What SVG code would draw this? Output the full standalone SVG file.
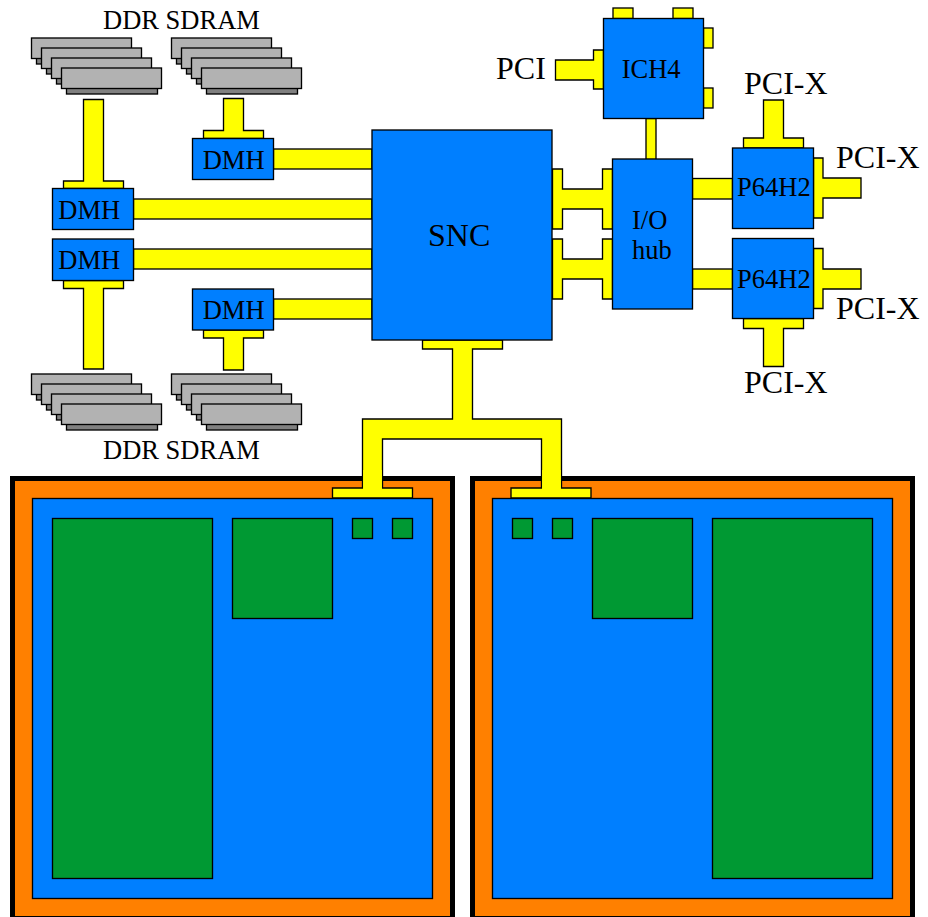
<svg xmlns="http://www.w3.org/2000/svg" xmlns:xlink="http://www.w3.org/1999/xlink" width="928" height="917" viewBox="0 0 928 917">
<style>
.l{stroke:#000;stroke-width:1.33}
.b{fill:#007fff}
.g{fill:#009933}
.y{fill:#ffff00}
.o{fill:#ff8000;stroke:#000;stroke-width:5}
.t{font-family:"Liberation Serif","Times New Roman",serif;font-size:26.5px;fill:#000}
.T{font-size:32px}
</style>
<defs>
<g id="dimm">
<rect x="36.5" y="58" width="91" height="6" fill="#808080" class="l"/>
<rect x="31.5" y="38" width="100" height="20.5" fill="#b2b2b2" class="l"/>
<rect x="46.5" y="68" width="91" height="6" fill="#808080" class="l"/>
<rect x="41.5" y="48" width="100" height="20.5" fill="#b2b2b2" class="l"/>
<rect x="56.5" y="78" width="91" height="6" fill="#808080" class="l"/>
<rect x="51.5" y="58" width="100" height="20.5" fill="#b2b2b2" class="l"/>
<rect x="66.5" y="88" width="91" height="6" fill="#808080" class="l"/>
<rect x="61.5" y="68" width="100" height="20.5" fill="#b2b2b2" class="l"/>
</g>
</defs>
<rect width="928" height="917" fill="#fff"/>
<g id="connectors">
<path class="y l" d="M83.5 99.5H103.5V181H123.5V188.5H63.5V181H83.5Z"/>
<path class="y l" d="M223.5 98.5H243.5V130.5H263.5V138.5H203.5V130.5H223.5Z"/>
<path class="y l" d="M63.5 280.5H123.5V288.5H103.5V369H83.5V288.5H63.5Z"/>
<path class="y l" d="M203.5 330H263.5V338H243.5V370H223.5V338H203.5Z"/>
<rect class="y l" x="273.5" y="149" width="98.5" height="20"/>
<rect class="y l" x="133.5" y="199" width="238.5" height="20"/>
<rect class="y l" x="133.5" y="249" width="238.5" height="20"/>
<rect class="y l" x="273.5" y="299" width="98.5" height="20"/>
<path class="y l" d="M552.5 169H562.5V189H602.5V169H612.5V229H602.5V209H562.5V229H552.5Z"/>
<path class="y l" d="M552.5 239H562.5V259H602.5V239H612.5V299H602.5V279H562.5V299H552.5Z"/>
<rect class="y l" x="646" y="118.500" width="10" height="41"/>
<rect class="y l" x="692.500" y="178.500" width="40" height="20.500"/>
<rect class="y l" x="692.500" y="269" width="40" height="20"/>
<path class="y l" d="M422.5 340H502.5V349H472.5V419H561.5V488H591V498H511V488H541.5V439H382.500V488H412.500V498H332.500V488H362.500V419H452.500V349H422.500Z"/>
<rect class="y l" x="613" y="8" width="20" height="10.500"/>
<rect class="y l" x="673" y="8" width="20" height="10.500"/>
<rect class="y l" x="703.500" y="28" width="9.500" height="20"/>
<rect class="y l" x="703.500" y="88" width="9.500" height="20"/>
<path class="y l" d="M603.500 50V89H593.500V80H555.500V60H593.500V50Z"/>
<path class="y l" d="M743.500 148V138H763.500V100H783.500V138H803.500V148Z"/>
<path class="y l" d="M813.500 158H823V178H861V198H823V218H813.500Z"/>
<path class="y l" d="M813.500 248.500H823V269H861V289H823V308.500H813.500Z"/>
<path class="y l" d="M743.500 318.500H803.500V328.500H783.500V366.500H763.500V328.500H743.500Z"/>
</g>
<g id="cpu-left">
<rect class="o" x="12.500" y="478.500" width="440" height="440"/>
<rect class="b l" x="32.500" y="498.500" width="400" height="400"/>
<rect class="g l" x="52.500" y="518.500" width="160" height="360"/>
<rect class="g l" x="232.500" y="518.500" width="100" height="100"/>
<rect class="g l" x="352.500" y="518.500" width="20" height="20"/>
<rect class="g l" x="392.500" y="518.500" width="20" height="20"/>
</g>
<g id="cpu-right">
<rect class="o" x="472.500" y="478.500" width="440" height="440"/>
<rect class="b l" x="492.500" y="498.500" width="400" height="400"/>
<rect class="g l" x="512.500" y="518.500" width="20" height="20"/>
<rect class="g l" x="552.500" y="518.500" width="20" height="20"/>
<rect class="g l" x="592.500" y="518.500" width="100" height="100"/>
<rect class="g l" x="712.500" y="518.500" width="160" height="360"/>
</g>
<g id="cpu-tabs">
<path class="y l" d="M362.500 476V488H332.500V498H412.500V488H382.500V476"/>
<path class="y l" d="M541.500 476V488H511V498H591V488H561.500V476"/>
<rect class="y" x="363.200" y="470" width="18.600" height="21"/>
<rect class="y" x="542.200" y="470" width="18.600" height="21"/>
</g>
<g id="dimms-tl"><use href="#dimm"/></g>
<g id="dimms-tr"><use href="#dimm" x="140"/></g>
<g id="dimms-bl"><use href="#dimm" y="336"/></g>
<g id="dimms-br"><use href="#dimm" x="140" y="336"/></g>
<g id="dmh-1"><rect class="b l" x="192.500" y="138.500" width="81" height="41"/><text class="t" x="202.700" y="168.500">DMH</text></g>
<g id="dmh-2"><rect class="b l" x="52.500" y="188.500" width="81" height="41"/><text class="t" x="58.300" y="218.500">DMH</text></g>
<g id="dmh-3"><rect class="b l" x="52.500" y="239" width="81" height="41.500"/><text class="t" x="58.300" y="268.500">DMH</text></g>
<g id="dmh-4"><rect class="b l" x="192.500" y="289" width="81" height="41"/><text class="t" x="202.700" y="318.500">DMH</text></g>
<g id="snc"><rect class="b l" x="372" y="130" width="180" height="210"/><text class="t T" x="428" y="246">SNC</text></g>
<g id="ich4"><rect class="b l" x="603.500" y="18.500" width="100" height="100"/><text class="t" x="621.700" y="78">ICH4</text></g>
<g id="io-hub"><rect class="b l" x="612.500" y="159" width="80" height="150"/><text class="t" x="632" y="228.500">I/O</text><text class="t" x="632" y="258.500">hub</text></g>
<g id="p64h2-1"><rect class="b l" x="732.500" y="148" width="81" height="80.500"/><text class="t" x="737" y="195.500">P64H2</text></g>
<g id="p64h2-2"><rect class="b l" x="732.500" y="238.500" width="81" height="80"/><text class="t" x="737" y="287.500">P64H2</text></g>
<g id="labels">
<text class="t" x="103" y="29">DDR SDRAM</text>
<text class="t" x="103" y="458.500">DDR SDRAM</text>
<text class="t T" x="496" y="79">PCI</text>
<text class="t T" x="744" y="94">PCI-X</text>
<text class="t T" x="836" y="168">PCI-X</text>
<text class="t T" x="836" y="319.300">PCI-X</text>
<text class="t T" x="744" y="392.700">PCI-X</text>
</g>
</svg>
